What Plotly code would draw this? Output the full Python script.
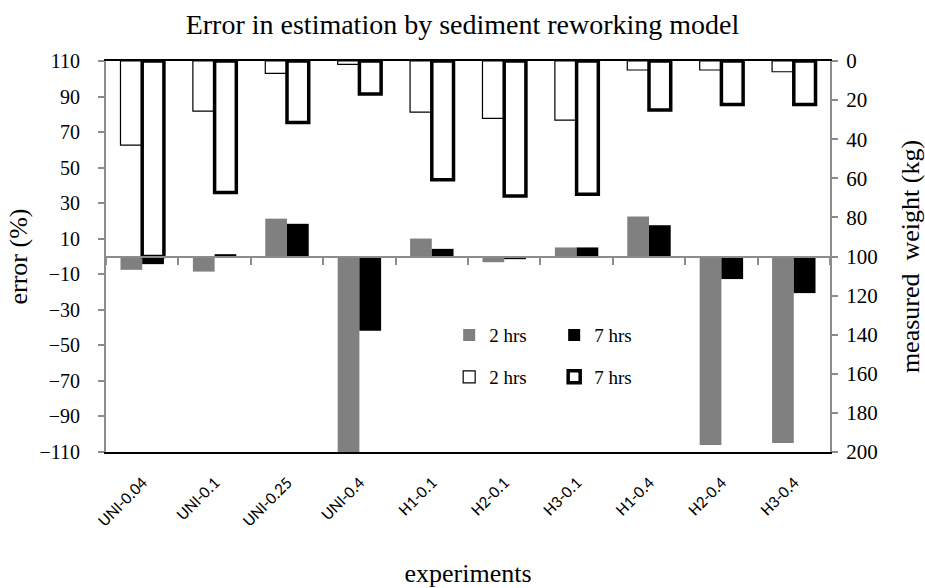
import plotly.graph_objects as go

experiments = ["UNI-0.04", "UNI-0.1", "UNI-0.25", "UNI-0.4", "H1-0.1",
               "H2-0.1", "H3-0.1", "H1-0.4", "H2-0.4", "H3-0.4"]

# error (%) - left axis
error_2hrs = [-7.5, -8.5, 21.3, -110.5, 10.1, -3.2, 5.1, 22.5, -106, -105]
error_7hrs = [-4.3, 1.3, 18.4, -41.8, 4.3, -1.5, 5.1, 17.6, -12.7, -20.6]

# measured weight (kg) - right axis, reversed
weight_2hrs = [43, 25.6, 6.3, 1.7, 26.2, 29.3, 30.2, 4.6, 4.6, 5.5]
weight_7hrs = [100, 67.3, 31.5, 16.9, 60.8, 69, 68.2, 25, 22.2, 22.2]

error_ticks = list(range(-110, 111, 20))
weight_ticks = list(range(0, 201, 20))

serif = "Times New Roman, Liberation Serif, serif"
sans = "Calibri, Carlito, Liberation Sans, Arial, sans-serif"
gray = "#808080"
axis_gray = "#8c8c8c"

fig = go.Figure()

fig.add_trace(go.Bar(x=experiments, y=error_2hrs, name="2 hrs",
                     marker=dict(color=gray, line=dict(width=0)),
                     legend="legend"))
fig.add_trace(go.Bar(x=experiments, y=error_7hrs, name="7 hrs",
                     marker=dict(color="black", line=dict(width=0)),
                     legend="legend"))
fig.add_trace(go.Bar(x=experiments, y=weight_2hrs, name="2 hrs",
                     xaxis="x2", yaxis="y2",
                     marker=dict(color="white", line=dict(color="black", width=1.2)),
                     legend="legend2"))
fig.add_trace(go.Bar(x=experiments, y=weight_7hrs, name="7 hrs",
                     xaxis="x2", yaxis="y2",
                     marker=dict(color="white", line=dict(color="black", width=3.5)),
                     legend="legend2"))

legend_style = dict(orientation="h", xanchor="left", yanchor="middle",
                    bgcolor="rgba(0,0,0,0)", font=dict(family=serif, size=19, color="black"),
                    entrywidth=60, entrywidthmode="pixels", traceorder="normal")

fig.update_layout(
    width=925, height=588,
    margin=dict(l=106, r=95, t=61, b=136),
    paper_bgcolor="white", plot_bgcolor="white",
    barmode="group", bargap=0.4, bargroupgap=0,
    title=dict(text="Error in estimation by sediment reworking model",
               x=0.5, xref="container", xanchor="center",
               y=1 - 24 / 588, yref="container", yanchor="middle",
               font=dict(family=serif, size=28, color="black")),
    xaxis=dict(type="category", categoryorder="array", categoryarray=experiments,
               showline=True, linecolor="black", linewidth=2, mirror=True,
               ticks="", tickangle=-45, ticklabelstandoff=12,
               tickfont=dict(family=sans, size=17, color="black"),
               title=dict(text="experiments", standoff=35,
                          font=dict(family=serif, size=26, color="black")),
               showgrid=False, zeroline=False, automargin=False),
    xaxis2=dict(type="category", categoryorder="array", categoryarray=experiments,
                overlaying="x", anchor="free", position=0.5,
                showline=True, linecolor=axis_gray, linewidth=2,
                ticks="outside", tickson="boundaries", ticklen=7,
                tickcolor=axis_gray, tickwidth=1.5,
                showticklabels=False, showgrid=False, zeroline=False, automargin=False),
    yaxis=dict(range=[-110, 110], tickvals=error_ticks,
               showline=True, linecolor=axis_gray, linewidth=2,
               ticks="outside", ticklen=6, tickcolor=axis_gray, tickwidth=1.5,
               ticklabelstandoff=14,
               tickfont=dict(family=serif, size=20, color="black"),
               title=dict(text="error (%)", standoff=4,
                          font=dict(family=serif, size=26, color="black")),
               showgrid=False, zeroline=False, automargin=False),
    yaxis2=dict(range=[200, 0], tickvals=weight_ticks,
                overlaying="y", side="right", anchor="x2",
                showline=True, linecolor=axis_gray, linewidth=2,
                ticks="outside", ticklen=6, tickcolor=axis_gray, tickwidth=1.5,
                ticklabelstandoff=4,
                tickfont=dict(family=serif, size=21, color="black"),
                title=dict(text="measured  weight (kg)", standoff=24,
                           font=dict(family=serif, size=26, color="black")),
                showgrid=False, zeroline=False, automargin=False),
    legend=dict(x=0.474, y=0.299, **legend_style),
    legend2=dict(x=0.474, y=0.192, **legend_style),
)

# remove the default page margin so the figure sits at the window's top-left corner
fig.write_html("out.html", config={"displayModeBar": False},
               post_script="document.body.style.margin='0';")
